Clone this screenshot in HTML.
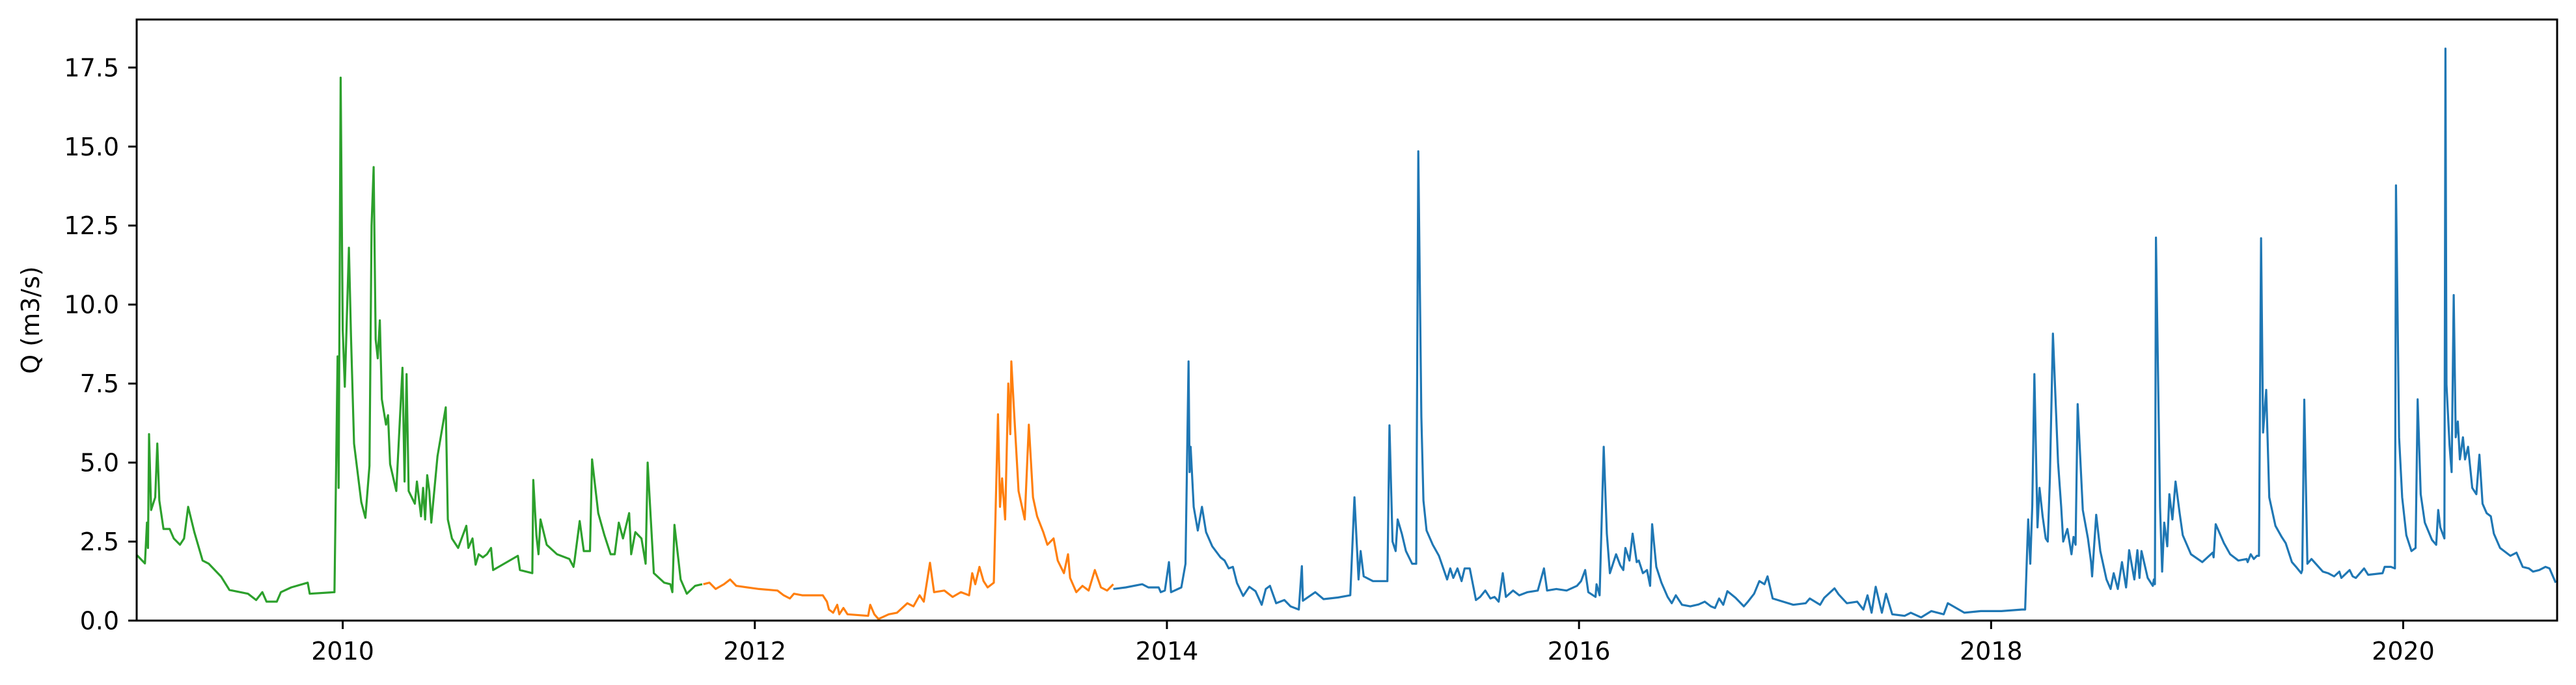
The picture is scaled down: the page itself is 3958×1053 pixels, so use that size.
<!DOCTYPE html>
<html>
<head>
<meta charset="utf-8">
<style>
  html,body{margin:0;padding:0;background:#fff;}
  svg{display:block;}
  text{font-family:"DejaVu Sans","Liberation Sans",sans-serif;fill:#000;}
</style>
</head>
<body>
<svg id="chart" width="3958" height="1053" viewBox="0 0 3958 1053" xmlns="http://www.w3.org/2000/svg">
  <rect x="0" y="0" width="3958" height="1053" fill="#fff"/>
  <g id="series"></g>
  <g id="axes"></g>
</svg>
<script>
// ---- data (decimal year, Q m3/s) ----
const greenYears = [2009.00,2009.04,2009.05,2009.055,2009.06,2009.07,2009.08,2009.09,2009.10,2009.11,2009.13,2009.16,2009.18,2009.21,2009.23,2009.25,2009.28,2009.32,2009.35,2009.41,2009.45,2009.54,2009.58,2009.61,2009.63,2009.68,2009.70,2009.75,2009.83,2009.84,2009.96,2009.975,2009.98,2009.99,2010.00,2010.01,2010.03,2010.04,2010.055,2010.07,2010.09,2010.11,2010.13,2010.14,2010.15,2010.16,2010.17,2010.18,2010.19,2010.21,2010.22,2010.23,2010.26,2010.29,2010.30,2010.31,2010.32,2010.35,2010.36,2010.38,2010.39,2010.40,2010.41,2010.42,2010.43,2010.46,2010.50,2010.51,2010.53,2010.56,2010.60,2010.61,2010.63,2010.645,2010.66,2010.68,2010.70,2010.72,2010.73,2010.85,2010.86,2010.92,2010.925,2010.94,2010.95,2010.96,2010.99,2011.04,2011.10,2011.12,2011.125,2011.15,2011.17,2011.20,2011.21,2011.24,2011.27,2011.30,2011.32,2011.34,2011.36,2011.39,2011.40,2011.42,2011.45,2011.47,2011.48,2011.51,2011.56,2011.59,2011.60,2011.61,2011.64,2011.67,2011.71,2011.745];
const greenValues = [2.08,1.81,3.1,2.3,5.9,3.5,3.7,3.9,5.6,3.8,2.9,2.9,2.6,2.4,2.6,3.6,2.8,1.9,1.8,1.39,0.97,0.85,0.65,0.9,0.6,0.6,0.9,1.05,1.2,0.85,0.9,8.36,4.2,17.18,9.2,7.4,11.8,9.0,5.6,4.8,3.75,3.25,4.9,12.5,14.35,8.9,8.3,9.5,7.0,6.2,6.5,4.95,4.1,8.0,4.4,7.8,4.1,3.7,4.4,3.3,4.2,3.2,4.6,4.1,3.1,5.2,6.75,3.2,2.6,2.3,3.0,2.3,2.6,1.77,2.1,2.0,2.1,2.3,1.6,2.05,1.6,1.5,4.45,2.7,2.1,3.2,2.4,2.1,1.95,1.7,1.9,3.15,2.2,2.2,5.1,3.4,2.7,2.1,2.1,3.1,2.6,3.4,2.1,2.8,2.6,1.8,5.0,1.5,1.2,1.15,0.9,3.03,1.3,0.85,1.1,1.15,1.1];

const orangeYears = [2011.75,2011.78,2011.81,2011.85,2011.88,2011.91,2012.02,2012.11,2012.14,2012.17,2012.19,2012.23,2012.33,2012.35,2012.36,2012.38,2012.40,2012.41,2012.43,2012.45,2012.55,2012.56,2012.58,2012.60,2012.65,2012.69,2012.74,2012.77,2012.80,2012.82,2012.85,2012.87,2012.92,2012.96,2013.00,2013.04,2013.055,2013.07,2013.09,2013.11,2013.13,2013.16,2013.18,2013.19,2013.20,2013.215,2013.23,2013.24,2013.245,2013.26,2013.28,2013.31,2013.33,2013.35,2013.37,2013.40,2013.42,2013.45,2013.47,2013.50,2013.52,2013.53,2013.56,2013.59,2013.62,2013.65,2013.68,2013.71,2013.74];
const orangeValues = [1.15,1.2,1.0,1.15,1.3,1.1,1.0,0.95,0.8,0.7,0.85,0.8,0.8,0.6,0.35,0.25,0.5,0.2,0.4,0.2,0.15,0.5,0.2,0.05,0.2,0.25,0.55,0.45,0.8,0.6,1.83,0.9,0.95,0.75,0.9,0.8,1.5,1.15,1.7,1.25,1.05,1.2,6.53,3.6,4.5,3.2,7.5,5.9,8.2,6.4,4.1,3.2,6.2,3.9,3.3,2.8,2.4,2.6,1.9,1.5,2.1,1.35,0.9,1.1,0.95,1.6,1.05,0.95,1.15];

const blueYears = [2013.74,2013.80,2013.88,2013.91,2013.96,2013.97,2013.99,2014.01,2014.02,2014.07,2014.09,2014.105,2014.11,2014.115,2014.13,2014.15,2014.17,2014.19,2014.22,2014.26,2014.28,2014.30,2014.32,2014.34,2014.37,2014.40,2014.43,2014.46,2014.48,2014.50,2014.53,2014.57,2014.60,2014.64,2014.655,2014.66,2014.72,2014.76,2014.83,2014.89,2014.91,2014.93,2014.94,2014.955,2015.00,2015.07,2015.08,2015.095,2015.11,2015.12,2015.14,2015.16,2015.19,2015.21,2015.22,2015.235,2015.245,2015.26,2015.29,2015.32,2015.36,2015.375,2015.39,2015.41,2015.43,2015.445,2015.47,2015.50,2015.52,2015.545,2015.57,2015.59,2015.61,2015.63,2015.645,2015.68,2015.71,2015.75,2015.80,2015.83,2015.845,2015.89,2015.94,2015.99,2016.01,2016.03,2016.045,2016.08,2016.085,2016.10,2016.12,2016.135,2016.15,2016.18,2016.20,2016.215,2016.225,2016.245,2016.26,2016.28,2016.29,2016.31,2016.33,2016.345,2016.355,2016.375,2016.40,2016.43,2016.45,2016.47,2016.50,2016.54,2016.58,2016.61,2016.64,2016.66,2016.68,2016.70,2016.72,2016.76,2016.80,2016.82,2016.85,2016.875,2016.90,2016.915,2016.94,2017.04,2017.10,2017.12,2017.17,2017.19,2017.24,2017.26,2017.30,2017.35,2017.38,2017.40,2017.42,2017.44,2017.47,2017.49,2017.52,2017.58,2017.61,2017.66,2017.71,2017.77,2017.79,2017.87,2017.95,2018.05,2018.15,2018.165,2018.18,2018.19,2018.20,2018.21,2018.225,2018.235,2018.25,2018.265,2018.275,2018.285,2018.30,2018.325,2018.34,2018.35,2018.37,2018.39,2018.40,2018.41,2018.42,2018.445,2018.47,2018.485,2018.49,2018.51,2018.53,2018.56,2018.58,2018.595,2018.615,2018.635,2018.655,2018.66,2018.67,2018.695,2018.71,2018.72,2018.73,2018.76,2018.785,2018.79,2018.795,2018.80,2018.82,2018.83,2018.84,2018.855,2018.865,2018.88,2018.895,2018.915,2018.93,2018.95,2018.97,2019.025,2019.075,2019.08,2019.09,2019.13,2019.16,2019.20,2019.24,2019.245,2019.26,2019.275,2019.29,2019.30,2019.31,2019.32,2019.335,2019.35,2019.38,2019.41,2019.43,2019.46,2019.48,2019.505,2019.51,2019.52,2019.535,2019.555,2019.61,2019.635,2019.665,2019.69,2019.70,2019.74,2019.755,2019.77,2019.81,2019.83,2019.90,2019.91,2019.94,2019.96,2019.965,2019.98,2019.995,2020.015,2020.04,2020.06,2020.07,2020.085,2020.105,2020.14,2020.16,2020.17,2020.18,2020.20,2020.205,2020.21,2020.225,2020.235,2020.245,2020.255,2020.265,2020.275,2020.29,2020.30,2020.315,2020.335,2020.355,2020.37,2020.385,2020.405,2020.425,2020.44,2020.47,2020.49,2020.52,2020.55,2020.58,2020.61,2020.63,2020.66,2020.69,2020.71,2020.74];
const blueValues = [1.0,1.05,1.15,1.05,1.05,0.9,0.95,1.85,0.9,1.05,1.8,8.2,4.7,5.5,3.6,2.85,3.6,2.8,2.35,2.0,1.9,1.65,1.7,1.19,0.78,1.07,0.93,0.5,1.0,1.1,0.55,0.65,0.45,0.35,1.72,0.63,0.9,0.68,0.73,0.8,3.9,1.3,2.2,1.4,1.25,1.25,6.18,2.5,2.2,3.2,2.75,2.2,1.8,1.8,14.85,6.45,3.8,2.85,2.4,2.05,1.3,1.65,1.35,1.65,1.25,1.65,1.65,0.65,0.75,0.95,0.7,0.75,0.6,1.5,0.75,0.95,0.8,0.9,0.95,1.65,0.95,1.0,0.95,1.1,1.25,1.6,0.9,0.75,1.15,0.8,5.5,2.75,1.5,2.1,1.75,1.6,2.3,1.9,2.75,1.85,1.9,1.5,1.6,1.1,3.05,1.7,1.2,0.75,0.55,0.8,0.5,0.45,0.51,0.6,0.45,0.4,0.7,0.5,0.93,0.72,0.45,0.6,0.85,1.25,1.15,1.4,0.7,0.5,0.55,0.7,0.5,0.72,1.02,0.83,0.55,0.6,0.35,0.8,0.25,1.07,0.25,0.85,0.2,0.15,0.25,0.1,0.3,0.2,0.55,0.25,0.3,0.3,0.35,0.35,3.2,1.8,3.65,7.8,2.95,4.2,3.3,2.6,2.5,4.5,9.08,5.0,3.6,2.5,2.9,2.1,2.65,2.4,6.85,3.5,2.6,1.85,1.4,3.35,2.2,1.3,1.0,1.5,1.0,1.85,1.05,1.4,2.23,1.3,2.23,1.35,2.2,1.35,1.1,1.3,1.15,12.12,3.6,1.55,3.1,2.35,4.0,3.2,4.4,3.4,2.7,2.4,2.1,1.85,2.15,2.0,3.05,2.45,2.1,1.9,1.95,1.85,2.1,1.95,2.05,2.05,12.1,5.95,7.3,3.9,3.0,2.65,2.45,1.85,1.7,1.5,1.6,6.99,1.8,1.95,1.55,1.5,1.4,1.55,1.35,1.6,1.4,1.35,1.65,1.45,1.5,1.7,1.7,1.65,13.77,5.8,3.9,2.7,2.2,2.3,7.0,4.0,3.1,2.55,2.4,3.5,2.95,2.6,18.1,7.47,5.55,4.7,10.3,5.8,6.3,5.1,5.8,5.1,5.5,4.2,4.0,5.25,3.7,3.4,3.3,2.75,2.3,2.2,2.05,2.15,1.7,1.65,1.55,1.6,1.7,1.65,1.2,1.3];

const yTickValues = [0, 2.5, 5, 7.5, 10, 12.5, 15, 17.5];
const yTickLabels = ["0.0","2.5","5.0","7.5","10.0","12.5","15.0","17.5"];
const xTickValues = [2010, 2012, 2014, 2016, 2018, 2020];
const xTickLabels = ["2010","2012","2014","2016","2018","2020"];

// ---- layout ----
const L = 210, R = 3929, T = 30, B = 954;
const X0 = 2009.0, X1 = 2020.747, Y0 = 0, Y1 = 19.02;
const xs = v => L + (v - X0) / (X1 - X0) * (R - L);
const ys = v => B - (v - Y0) / (Y1 - Y0) * (B - T);
const NS = "http://www.w3.org/2000/svg";
const seriesG = document.getElementById('series');
const axesG = document.getElementById('axes');

function mk(tag, attrs, parent) {
  const e = document.createElementNS(NS, tag);
  for (const k in attrs) e.setAttribute(k, attrs[k]);
  parent.appendChild(e);
  return e;
}

function drawLine(years, vals, color, name) {
  const d = years.map((yr, i) => (i ? 'L' : 'M') + xs(yr).toFixed(1) + ' ' + ys(vals[i]).toFixed(1)).join(' ');
  const p = mk('path', {d: d, fill: 'none', stroke: color, 'stroke-width': 3.2, 'stroke-linejoin': 'round'}, seriesG);
  
  
}
drawLine(greenYears, greenValues, '#2ca02c', 'series-green-line');
drawLine(orangeYears, orangeValues, '#ff7f0e', 'series-orange-line');
drawLine(blueYears, blueValues, '#1f77b4', 'series-blue-line');

// frame
const frame = mk('rect', {x: L, y: T, width: R - L, height: B - T, fill: 'none', stroke: '#000', 'stroke-width': 3}, axesG);



// y ticks
yTickValues.forEach((v, i) => {
  const y = ys(v);
  const t = mk('line', {x1: L - 13, x2: L, y1: y, y2: y, stroke: '#000', 'stroke-width': 3}, axesG);
  
  
  const lb = mk('text', {x: L - 27, y: y + 13.5, 'text-anchor': 'end', 'font-size': 38}, axesG);
  lb.textContent = yTickLabels[i];
  
  
});

// x ticks
xTickValues.forEach((v, i) => {
  const x = xs(v);
  const t = mk('line', {x1: x, x2: x, y1: B, y2: B + 13, stroke: '#000', 'stroke-width': 3}, axesG);
  
  
  const lb = mk('text', {x: x, y: 1014, 'text-anchor': 'middle', 'font-size': 38}, axesG);
  lb.textContent = xTickLabels[i];
  
  
});

// y axis title
const yt = mk('text', {x: 0, y: 0, 'text-anchor': 'middle', 'font-size': 38, transform: 'translate(60,' + ((T + B) / 2) + ') rotate(-90)'}, axesG);
yt.textContent = 'Q (m3/s)';


</script>
</body>
</html>
